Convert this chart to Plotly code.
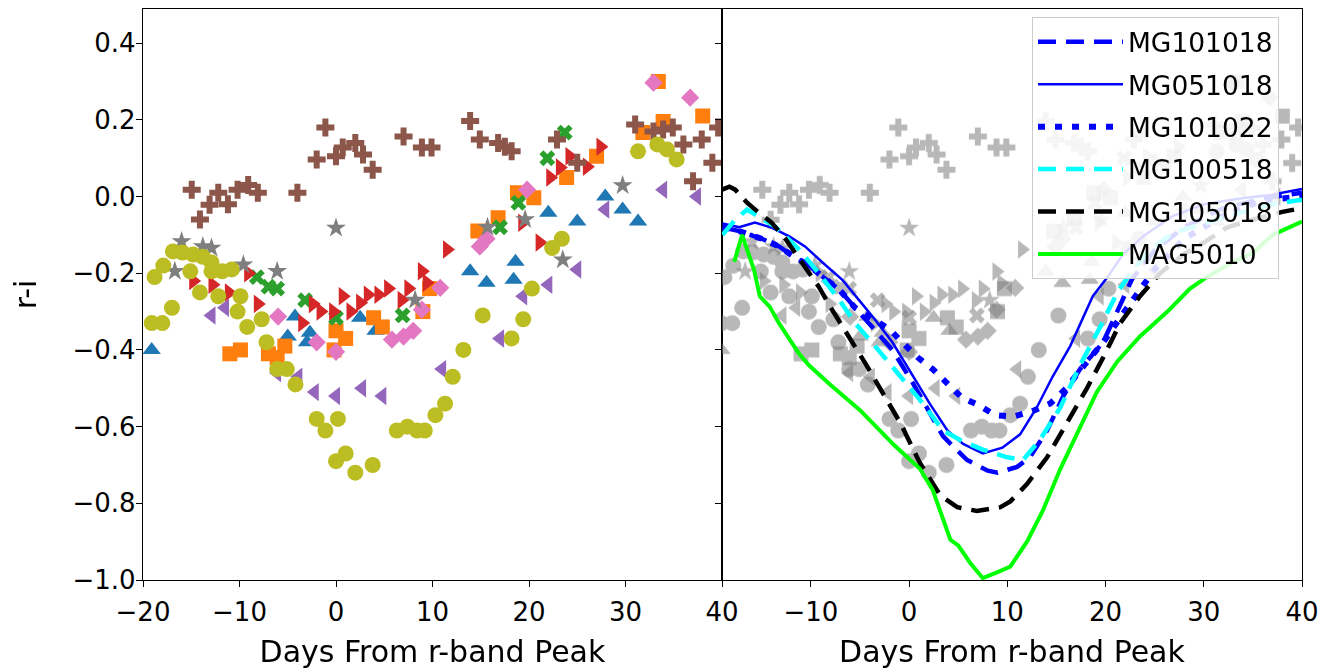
import plotly.graph_objects as go

# ---------------- observed r-i colours (one list pair per object) ----------------
c0_x = [-19.1, -5.0, -4.25, -3.0, -2.7, 2.5, 4.1, 13.9, 15.6, 18.4, 18.6, 22.0, 25.0, 27.9, 29.7, 31.3]
c0_y = [-0.40, -0.365, -0.313, -0.38, -0.355, -0.316, -0.35, -0.195, -0.225, -0.217, -0.17, -0.042, -0.065, 0.0, -0.034, -0.065]

c1_x = [-11.0, -9.9, -7.0, -6.1, -5.3, 0.0, 1.0, -0.2, 3.9, 4.8, 9.0, 9.7, 14.7, 16.8, 18.8, 20.5, 23.9, 27.0, 31.8, 33.9, 33.4, 38.0]
c1_y = [-0.41, -0.40, -0.41, -0.42, -0.39, -0.35, -0.37, -0.40, -0.316, -0.34, -0.30, -0.24, -0.09, -0.055, 0.01, -0.003, 0.05, 0.105, 0.167, 0.196, 0.30, 0.21]

c2_x = [-8.2, -7.0, -6.1, -3.2, 0.0, 6.9, 17.0, 18.9, 21.9, 23.7]
c2_y = [-0.21, -0.235, -0.24, -0.27, -0.316, -0.31, -0.08, -0.016, 0.10, 0.167]

c3_x = [-14.8, -12.8, -11.1, -9.1, -8.1, -3.5, -2.4, -1.6, -0.3, 0.7, 1.5, 2.5, 3.3, 4.4, 5.4, 6.8, 7.5, 8.9, 9.4, 11.5, 19.3, 21.1, 22.2, 23.2, 24.2, 26.0, 27.4]
c3_y = [-0.22, -0.23, -0.25, -0.20, -0.28, -0.33, -0.28, -0.30, -0.30, -0.26, -0.30, -0.277, -0.256, -0.256, -0.24, -0.27, -0.24, -0.195, -0.225, -0.138, -0.068, -0.12, 0.05, 0.076, 0.105, 0.078, 0.13]

c4_x = [-12.9, -11.5, -6.1, -3.9, -2.2, 0.0, 2.7, 4.8, 11.0, 17.0, 19.4, 22.0, 25.0, 27.9, 33.9, 37.4]
c4_y = [-0.31, -0.29, -0.46, -0.47, -0.51, -0.52, -0.50, -0.52, -0.45, -0.37, -0.26, -0.23, -0.19, -0.034, 0.018, 0.0]

c5_x = [-14.95, -14.1, -13.1, -12.2, -11.2, -10.2, -9.1, -8.1, -4.0, -2.0, -1.1, 0.0, 0.7, 2.0, 2.8, 3.8, 7.0, 8.9, 9.9,
        13.9, 14.9, 16.8, 17.5, 18.2, 22.9, 25.0, 31.0, 32.9, 33.9, 34.9, 36.0, 37.0, 37.9, 39.0, 39.6]
c5_y = [0.018, -0.06, -0.021, 0.01, -0.02, 0.018, 0.03, 0.01, 0.01, 0.097, 0.18, 0.105, 0.128, 0.14, 0.11, 0.07, 0.157, 0.128, 0.128,
        0.197, 0.149, 0.14, 0.13, 0.118, 0.149, 0.088, 0.188, 0.17, 0.175, 0.18, 0.136, 0.04, 0.149, 0.088, 0.18]

c6_x = [-6.0, -2.0, 0.0, 5.8, 7.0, 8.0, 8.9, 10.8, 14.9, 15.6, 19.8, 32.9, 36.7]
c6_y = [-0.313, -0.38, -0.405, -0.373, -0.365, -0.35, -0.295, -0.238, -0.13, -0.11, 0.018, 0.297, 0.258]

c7_x = [-16.7, -16.0, -13.8, -12.9, -9.6, -6.1, 0.0, 8.2, 15.7, 19.6, 23.5, 29.7]
c7_y = [-0.195, -0.117, -0.13, -0.134, -0.178, -0.195, -0.082, -0.27, -0.08, -0.06, -0.165, 0.029]

c8_x = [-19.1, -18.8, -18.0, -17.9, -17.0, -16.9, -15.9, -14.8, -13.8, -12.9, -15.1, -12.9, -11.8, -10.8, -14.1, -12.2, -9.9,
        -10.2, -7.7, -9.2, -7.2, -6.1, -5.1, -4.2, -2.0, 0.2, -1.1, 0.0, 1.0, 2.0, 3.8, 6.3, 7.4, 8.4, 9.2, 10.3, 11.3,
        12.1, 13.2, 15.2, 18.2, 19.4, 20.3, 22.4, 23.4, 31.3, 33.3, 34.3, 35.3]
c8_y = [-0.33, -0.21, -0.33, -0.18, -0.29, -0.143, -0.146, -0.151, -0.157, -0.172, -0.195, -0.195, -0.195, -0.19, -0.25, -0.26, -0.26,
        -0.30, -0.32, -0.34, -0.38, -0.45, -0.45, -0.49, -0.58, -0.58, -0.61, -0.69, -0.67, -0.72, -0.70, -0.61, -0.60, -0.61, -0.61, -0.57, -0.54,
        -0.47, -0.40, -0.31, -0.37, -0.32, -0.24, -0.134, -0.11, 0.118, 0.136, 0.123, 0.097]

# ---------------- model r-i curves ----------------
mg101018_x = [-19.0, -17.3, -15.0, -13.25, -11.7, -10.2, -8.5, -7.1, -5.5, -4.1, -3.0, -1.7, 0.4, 2.0, 3.45, 5.9, 8.0, 9.0,
              11.0, 12.3, 14.05, 15.7, 17.4, 19.75, 21.2, 22.7, 25.0, 28.0, 32.0, 36.0, 40.0]
mg101018_y = [-0.08, -0.09, -0.11, -0.13, -0.157, -0.18, -0.215, -0.243, -0.29, -0.33, -0.36, -0.40, -0.487, -0.56, -0.625, -0.687, -0.715, -0.72,
              -0.705, -0.68, -0.61, -0.52, -0.45, -0.38, -0.30, -0.215, -0.14, -0.08, -0.03, -0.005, 0.01]

mg051018_x = [-19.0, -17.3, -15.7, -14.0, -12.2, -10.6, -8.9, -6.8, -5.1, -3.5, -1.7, 0.4, 2.1, 3.9, 5.5, 7.5, 9.5, 11.3, 13.0,
              14.6, 16.4, 18.7, 20.2, 21.8, 24.0, 26.9, 30.0, 33.7, 37.0, 40.0]
mg051018_y = [-0.07, -0.08, -0.068, -0.081, -0.104, -0.13, -0.17, -0.217, -0.27, -0.32, -0.38, -0.47, -0.54, -0.61, -0.645, -0.67, -0.655, -0.62, -0.55,
              -0.47, -0.39, -0.26, -0.21, -0.15, -0.10, -0.05, -0.02, -0.005, 0.005, 0.02]

mg101022_x = [-19.0, -17.3, -15.0, -13.25, -11.7, -10.2, -8.5, -7.1, -5.5, -3.5, -1.95, -0.7, 0.9, 2.4, 3.9, 5.4, 7.0, 8.75, 10.6,
              12.5, 14.35, 16.0, 17.5, 19.75, 22.2, 25.0, 28.0, 32.0, 36.0, 40.0]
mg101022_y = [-0.08, -0.09, -0.11, -0.13, -0.157, -0.18, -0.215, -0.243, -0.29, -0.32, -0.347, -0.38, -0.42, -0.45, -0.49, -0.525, -0.543, -0.57, -0.574,
              -0.56, -0.54, -0.50, -0.45, -0.38, -0.29, -0.19, -0.11, -0.05, -0.01, 0.0]

mg100518_x = [-19.0, -17.7, -16.5, -15.7, -13.65, -11.2, -9.2, -7.1, -5.5, -3.8, -0.9, 1.1, 3.45, 5.2, 7.5, 10.0, 11.6, 13.3,
              15.4, 17.4, 19.45, 21.2, 22.8, 24.5, 26.9, 30.3, 34.0, 37.0, 40.0]
mg100518_y = [-0.10, -0.06, -0.034, -0.047, -0.078, -0.138, -0.20, -0.27, -0.33, -0.38, -0.47, -0.53, -0.61, -0.635, -0.66, -0.68, -0.687, -0.635,
              -0.55, -0.44, -0.34, -0.25, -0.19, -0.14, -0.094, -0.068, -0.04, -0.02, -0.008]

mg105018_x = [-19.05, -18.3, -17.7, -17.0, -16.5, -15.3, -14.0, -12.6, -10.9, -9.2, -7.85, -6.1, -4.5, -0.9, 1.1, 3.2, 4.9, 6.9,
              9.3, 10.3, 12.0, 14.05, 16.1, 18.1, 19.75, 21.5, 23.5, 25.55, 28.0, 30.0, 32.4, 35.0, 38.0, 40.0]
mg105018_y = [0.018, 0.026, 0.018, 0.0, -0.016, -0.042, -0.068, -0.11, -0.17, -0.235, -0.295, -0.365, -0.433, -0.59, -0.695, -0.78, -0.81, -0.82,
              -0.81, -0.795, -0.75, -0.68, -0.59, -0.50, -0.42, -0.33, -0.26, -0.20, -0.15, -0.12, -0.08, -0.06, -0.04, -0.03]

mag5010_x = [-17.8, -17.0, -16.5, -15.8, -15.2, -14.2, -13.25, -12.2, -11.2, -10.2, -8.05, -5.0, -2.95, -1.45, 1.1, 2.4, 4.2, 5.0,
             6.2, 7.5, 8.95, 10.3, 12.0, 13.6, 15.4, 17.1, 19.1, 21.2, 23.5, 26.3, 28.6, 30.3, 33.0, 35.0, 37.0, 40.0]
mag5010_y = [-0.17, -0.10, -0.138, -0.19, -0.26, -0.287, -0.33, -0.37, -0.41, -0.44, -0.49, -0.557, -0.61, -0.65, -0.71, -0.765, -0.895, -0.91,
             -0.955, -0.995, -0.98, -0.965, -0.90, -0.82, -0.71, -0.62, -0.51, -0.43, -0.365, -0.30, -0.24, -0.21, -0.17, -0.147, -0.10, -0.065]

x_ticks = [-20, -10, 0, 10, 20, 30, 40]
y_ticks = [-1.0, -0.8, -0.6, -0.4, -0.2, 0.0, 0.2, 0.4]

FONT = "DejaVu Sans"

observed = [
    (c0_x, c0_y, "#1f77b4", "triangle-up", 16),
    (c1_x, c1_y, "#ff7f0e", "square", 15),
    (c2_x, c2_y, "#2ca02c", "x", 14),
    (c3_x, c3_y, "#d62728", "triangle-right", 16),
    (c4_x, c4_y, "#9467bd", "triangle-left", 16),
    (c5_x, c5_y, "#8c564b", "cross", 15),
    (c6_x, c6_y, "#e377c2", "diamond", 14),
    (c7_x, c7_y, "#7f7f7f", "star", 15),
    (c8_x, c8_y, "#bcbd22", "circle", 16),
]

fig = go.Figure()

for x, y, col, sym, sz in observed:
    fig.add_trace(go.Scatter(x=x, y=y, mode="markers", xaxis="x", yaxis="y", showlegend=False,
                             marker=dict(color=col, symbol=sym, size=sz, line=dict(width=0))))

for x, y, col, sym, sz in observed:
    fig.add_trace(go.Scatter(x=x, y=y, mode="markers", xaxis="x2", yaxis="y2", showlegend=False,
                             opacity=0.55,
                             marker=dict(color="#7f7f7f", symbol=sym, size=sz, line=dict(width=0))))

models = [
    ("MG101018", mg101018_x, mg101018_y, "#0000ff", "18px,10px", 4.5),
    ("MG051018", mg051018_x, mg051018_y, "#0000ff", "solid", 2.5),
    ("MG101022", mg101022_x, mg101022_y, "#0000ff", "7px,10px", 6),
    ("MG100518", mg100518_x, mg100518_y, "#00ffff", "18px,10px", 4.5),
    ("MG105018", mg105018_x, mg105018_y, "#000000", "18px,10px", 4.5),
    ("MAG5010", mag5010_x, mag5010_y, "#00ff00", "solid", 4),
]
for i, (name, x, y, col, dash, w) in enumerate(models):
    fig.add_trace(go.Scatter(x=x, y=y, mode="lines", name=name, xaxis="x2", yaxis="y2",
                             legendgroup="g%d" % i,
                             line=dict(color=col, dash=dash, width=w)))

axis_common = dict(showgrid=False, zeroline=False, showline=True, linecolor="black", linewidth=1.3,
                   mirror=True, ticks="outside", ticklen=6, tickwidth=1.3, tickcolor="black",
                   automargin=False,
                   tickfont=dict(family=FONT, size=26, color="black"))

# the page body adds an 8 px offset; the figure is sized so it ends at the window edge
W, H = 1336, 662

fig.update_layout(
    width=W, height=H,
    margin=dict(l=0, r=0, t=0, b=0, autoexpand=False),
    paper_bgcolor="white", plot_bgcolor="white",
    font=dict(family=FONT, color="black"),
    xaxis=dict(domain=[135 / W, 714 / W], range=[-20, 40], tickvals=x_ticks, anchor="y",
               ticklabelstandoff=3,
               title=dict(text="Days From r-band Peak", font=dict(family=FONT, size=30), standoff=14),
               **axis_common),
    xaxis2=dict(domain=[714 / W, 1294 / W], range=[-19.05, 40], tickvals=x_ticks, anchor="y2",
                ticklabelstandoff=3,
                title=dict(text="Days From r-band Peak", font=dict(family=FONT, size=30), standoff=14),
                **axis_common),
    yaxis=dict(domain=[1 - 572 / H, 1 - 0.7 / H], range=[-1.0, 0.49], tickvals=y_ticks, tickformat=".1f", anchor="x",
               ticklabelstandoff=-5,
               title=dict(text="r-i", font=dict(family=FONT, size=30), standoff=30),
               **axis_common),
    yaxis2=dict(domain=[1 - 572 / H, 1 - 0.7 / H], range=[-1.0, 0.49], tickvals=y_ticks, anchor="x2",
                matches="y", showticklabels=False, **axis_common),
    legend=dict(x=1024 / W, y=1 - 9 / H, xanchor="left", yanchor="top",
                bgcolor="rgba(255,255,255,0.85)", bordercolor="#cccccc", borderwidth=1,
                font=dict(family=FONT, size=26.5, color="black"),
                tracegroupgap=5, itemwidth=85),
)

fig.write_html("out.html")
